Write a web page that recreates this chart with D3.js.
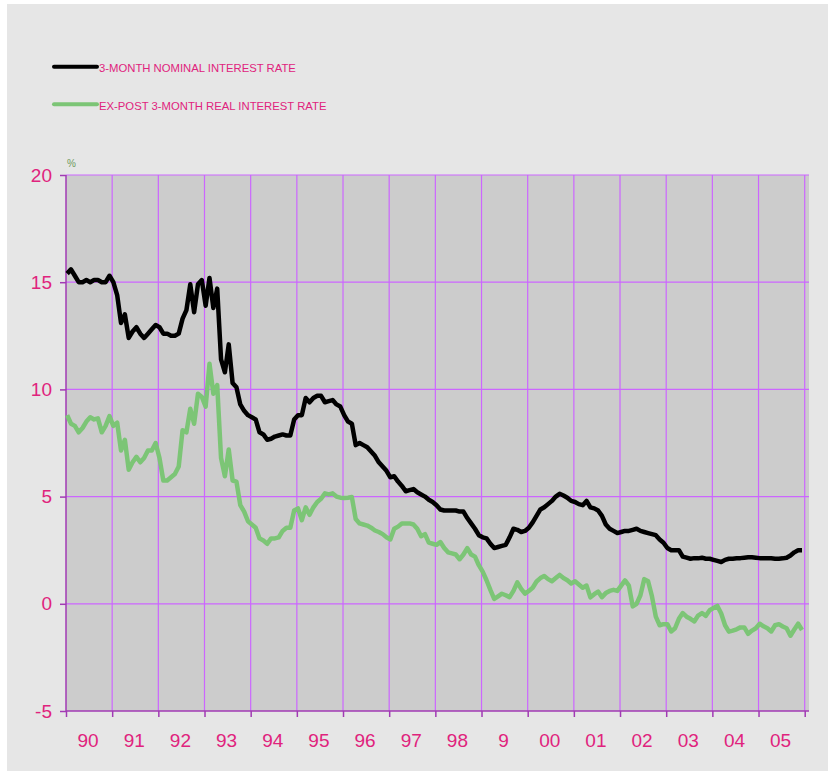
<!DOCTYPE html>
<html>
<head>
<meta charset="utf-8">
<script src="https://cdn.jsdelivr.net/npm/d3@7"></script>
<style>
	body { margin: 0; background: #fff; }
	text { font-family: "Liberation Sans", Arial, sans-serif; }
</style>
</head>
<body>
<svg id="chart" width="828" height="771"></svg>
<script>
// monthly values, Jan 1990 .. Dec 2005
const nominal = [
	15.4, 15.6, 15.3, 15.0, 15.0, 15.1, 15.0, 15.1, 15.1, 15.0, 15.0, 15.3,
	15.0, 14.4, 13.1, 13.5, 12.4, 12.7, 12.9, 12.6, 12.4, 12.6, 12.8, 13.0,
	12.9, 12.6, 12.6, 12.5, 12.5, 12.6, 13.3, 13.7, 14.9, 13.6, 14.9, 15.1,
	13.9, 15.2, 13.8, 14.7, 11.4, 10.8, 12.1, 10.3, 10.1, 9.3, 9.0, 8.8,
	8.7, 8.6, 8.0, 7.9, 7.65, 7.7, 7.8, 7.85, 7.9, 7.85, 7.85, 8.6,
	8.8, 8.8, 9.6, 9.4, 9.6, 9.7, 9.7, 9.4, 9.45, 9.5, 9.3, 9.2,
	8.8, 8.5, 8.4, 7.4, 7.5, 7.4, 7.3, 7.1, 6.9, 6.6, 6.4, 6.2,
	5.9, 5.95, 5.7, 5.5, 5.25, 5.3, 5.35, 5.2, 5.1, 5.0, 4.85, 4.75,
	4.6, 4.4, 4.35, 4.35, 4.35, 4.35, 4.3, 4.3, 4.0, 3.75, 3.5, 3.2,
	3.1, 3.05, 2.8, 2.6, 2.65, 2.7, 2.75, 3.1, 3.5, 3.45, 3.35, 3.4,
	3.55, 3.8, 4.1, 4.4, 4.5, 4.65, 4.8, 5.0, 5.13, 5.05, 4.95, 4.8,
	4.75, 4.65, 4.6, 4.8, 4.5, 4.45, 4.35, 4.1, 3.7, 3.5, 3.4, 3.3,
	3.35, 3.4, 3.4, 3.45, 3.5, 3.4, 3.35, 3.3, 3.25, 3.2, 3.0, 2.85,
	2.6, 2.5, 2.5, 2.5, 2.2, 2.15, 2.1, 2.13, 2.12, 2.15, 2.1, 2.1,
	2.05, 2.0, 1.95, 2.05, 2.1, 2.1, 2.12, 2.13, 2.15, 2.17, 2.17, 2.15,
	2.13, 2.13, 2.12, 2.12, 2.1, 2.1, 2.12, 2.15, 2.25, 2.4, 2.5, 2.5
]
const real = [
	8.8, 8.4, 8.3, 8.0, 8.2, 8.5, 8.7, 8.6, 8.65, 8.0, 8.3, 8.75,
	8.3, 8.45, 7.15, 7.65, 6.25, 6.6, 6.85, 6.6, 6.8, 7.15, 7.15, 7.5,
	6.8, 5.75, 5.75, 5.9, 6.05, 6.4, 8.1, 8.0, 9.1, 8.4, 9.8, 9.65,
	9.2, 11.2, 9.8, 10.2, 6.8, 5.95, 7.2, 5.75, 5.7, 4.6, 4.3, 3.85,
	3.7, 3.55, 3.05, 2.95, 2.8, 3.05, 3.05, 3.1, 3.4, 3.55, 3.55, 4.35,
	4.45, 3.9, 4.5, 4.15, 4.5, 4.75, 4.9, 5.15, 5.1, 5.15, 5.0, 4.95,
	4.93, 4.95, 4.98, 3.95, 3.75, 3.7, 3.65, 3.55, 3.42, 3.35, 3.25, 3.1,
	3.0, 3.5, 3.6, 3.75, 3.75, 3.75, 3.7, 3.5, 3.15, 3.25, 2.85, 2.8,
	2.75, 2.88, 2.6, 2.4, 2.35, 2.3, 2.08, 2.3, 2.6, 2.3, 2.2, 1.8,
	1.5, 1.1, 0.65, 0.23, 0.35, 0.47, 0.4, 0.31, 0.6, 1.0, 0.7, 0.47,
	0.6, 0.75, 1.04, 1.2, 1.3, 1.15, 1.05, 1.2, 1.35, 1.2, 1.1, 0.95,
	1.05, 0.9, 0.75, 0.85, 0.3, 0.45, 0.57, 0.31, 0.5, 0.6, 0.65, 0.6,
	0.85, 1.09, 0.85, -0.12, 0.0, 0.4, 1.15, 1.05, 0.35, -0.6, -1.0, -0.95,
	-0.95, -1.29, -1.14, -0.7, -0.43, -0.6, -0.7, -0.82, -0.55, -0.43, -0.56, -0.3,
	-0.2, -0.1, -0.45, -1.0, -1.3, -1.25, -1.19, -1.1, -1.1, -1.4, -1.25, -1.14,
	-0.93, -1.05, -1.14, -1.29, -1.0, -0.95, -1.06, -1.14, -1.49, -1.2, -0.93, -1.22
]
const startYear = 1990
const yearLabels = ["90", "91", "92", "93", "94", "95", "96", "97", "98", "9", "00", "01", "02", "03", "04", "05"]
const yTicks = [-5, 0, 5, 10, 15, 20]
const series = [
	{ name: "3-MONTH NOMINAL INTEREST RATE", values: nominal, color: "#000000" },
	{ name: "EX-POST 3-MONTH REAL INTEREST RATE", values: real, color: "#7cc576" }
]

const pink = "#e0237d"
const grid = "#cc66ff"
const axisColor = "#a23ab4"

let svg = d3.select("#chart")

svg.append("rect").attr("x", 7).attr("y", 4).attr("width", 821).attr("height", 767).attr("fill", "#e6e6e6")

let x = d3.scaleLinear().domain([startYear, startYear + yearLabels.length]).range([66, 804.7])
let y = d3.scaleLinear().domain([-5, 20]).range([711, 175])

// plot background
svg.append("rect").attr("x", 66).attr("y", y(20)).attr("width", 809 - 66).attr("height", y(-5) - y(20)).attr("fill", "#cccccc")

// horizontal grid
svg.append("g").selectAll("line").data(yTicks.filter(d => d > -5)).enter().append("line")
	.attr("x1", 66).attr("x2", 809)
	.attr("y1", d => y(d)).attr("y2", d => y(d))
	.style("stroke", grid).style("stroke-width", 1.2)

// vertical grid, one per year boundary
let years = d3.range(startYear + 1, startYear + yearLabels.length + 1)
svg.append("g").selectAll("line").data(years).enter().append("line")
	.attr("x1", d => x(d)).attr("x2", d => x(d))
	.attr("y1", y(20)).attr("y2", y(-5))
	.style("stroke", grid).style("stroke-width", 1.2)

// y axis
let yAxis = svg.append("g").attr("transform", "translate(66,0)")
	.call(d3.axisLeft(y).tickValues(yTicks).tickSize(6).tickPadding(8).tickFormat(d => String(d)))
yAxis.select(".domain").style("stroke", axisColor).style("stroke-width", 1.5).attr("d", `M0,${y(20)}V${y(-5)}`)
yAxis.selectAll(".tick line").style("stroke", axisColor).style("stroke-width", 1.5)
yAxis.selectAll(".tick text").style("fill", pink).style("font-size", "19px")
	.style("font-family", "'Liberation Sans', Arial, sans-serif")

// x axis
let xAxis = svg.append("g").attr("transform", `translate(0,${y(-5)})`)
	.call(d3.axisBottom(x).tickValues(d3.range(startYear, startYear + yearLabels.length + 1)).tickSize(6).tickFormat(""))
xAxis.select(".domain").style("stroke", axisColor).style("stroke-width", 1.5).attr("d", `M66,0H809`)
xAxis.selectAll(".tick line").style("stroke", axisColor).style("stroke-width", 1.5)

svg.append("g").selectAll("text").data(yearLabels).enter().append("text")
	.attr("x", (d, i) => (x(startYear + i) + x(startYear + i + 1)) / 2 - 1)
	.attr("y", 747)
	.attr("text-anchor", "middle")
	.style("fill", pink).style("font-size", "19px")
	.text(d => d)

// % unit
svg.append("text").attr("x", 67).attr("y", 167).style("fill", "#6f9a5c").style("font-size", "10px").text("%")

// lines
let line = d3.line()
	.x((d, i) => x(startYear + (i + 0.3) / 12))
	.y(d => y(d))

series.slice().reverse().forEach(s => {
	svg.append("path").datum(s.values)
		.attr("d", line)
		.style("fill", "none")
		.style("stroke", s.color)
		.style("stroke-width", 4.5)
		.style("stroke-linejoin", "round")
})

// legend
let legend = svg.append("g").selectAll("g").data(series).enter().append("g")
	.attr("transform", (d, i) => `translate(0,${66.7 + i * 37.5})`)
legend.append("line").attr("x1", 54).attr("x2", 97).attr("y1", 0).attr("y2", 0)
	.style("stroke", d => d.color).style("stroke-width", 4).style("stroke-linecap", "round")
legend.append("text").attr("x", 99).attr("y", 5.5).style("fill", pink).style("font-size", "11.3px").text(d => d.name)
</script>
</body>
</html>
